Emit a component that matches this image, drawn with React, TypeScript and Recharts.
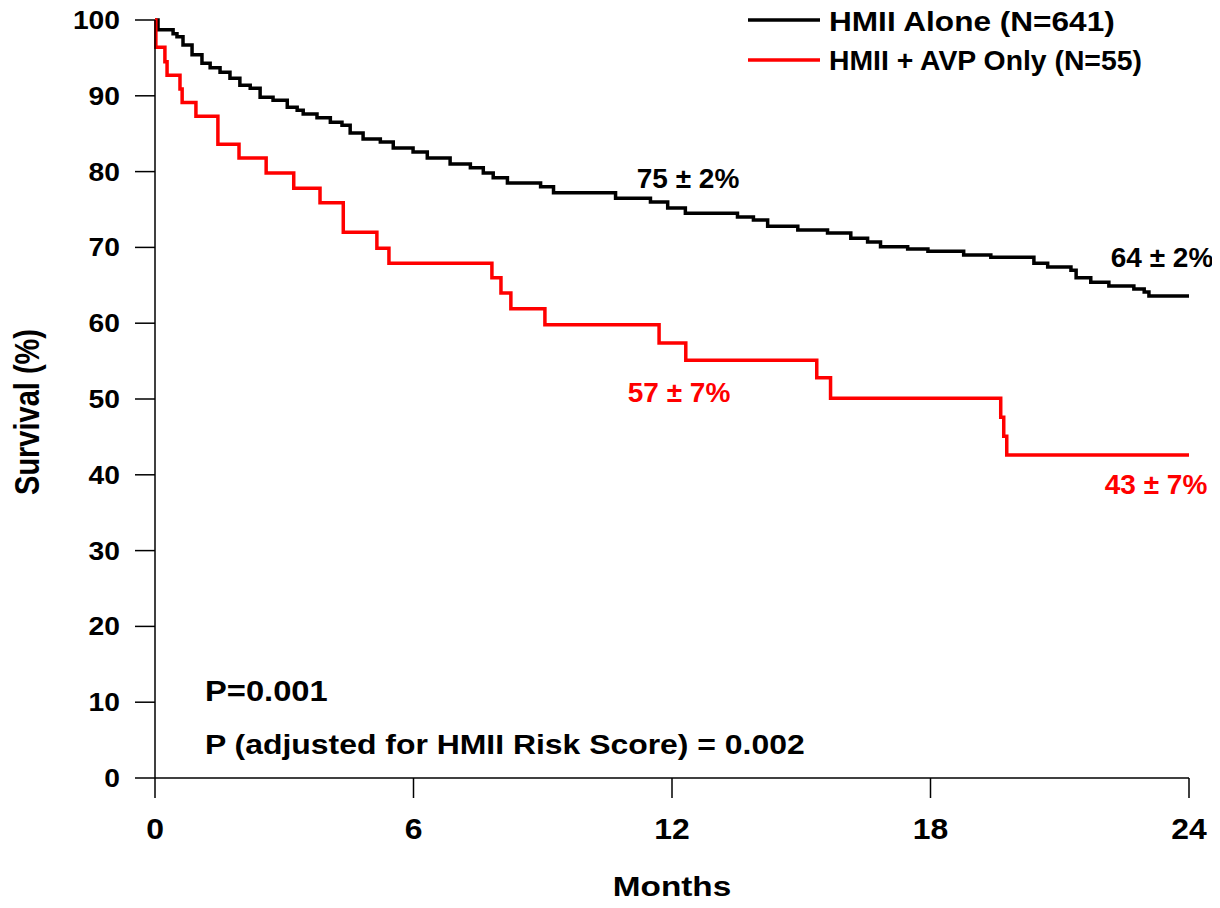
import React from 'react'
import { LineChart, Line, XAxis, YAxis } from 'recharts'

const FONT = '"Liberation Sans", Arial, Helvetica, sans-serif'

const monthTicks = [0, 6, 12, 18, 24]
const survivalTicks = [0, 10, 20, 30, 40, 50, 60, 70, 80, 90, 100]

// HMII Alone (N=641)
const aloneMonths = [
  0, 0.07, 0.42, 0.51, 0.65, 0.86, 1.09, 1.28, 1.51, 1.74, 1.97, 2.21, 2.44, 2.74, 3.07,
  3.3, 3.44, 3.76, 4.07, 4.34, 4.53, 4.83, 5.23, 5.53, 5.99, 6.32, 6.85, 7.32, 7.62, 7.85,
  8.18, 8.95, 9.25, 10.69, 11.5, 11.9, 12.31, 13.52, 13.89, 14.22, 14.92, 15.61, 16.15,
  16.54, 16.84, 17.47, 17.94, 18.77, 19.4, 20.4, 20.72, 21.26, 21.38, 21.72, 22.14, 22.72,
  22.96, 23.07, 24,
]
const aloneSurvival = [
  100, 98.7, 98.2, 97.8, 96.7, 95.4, 94.3, 93.7, 93.1, 92.3, 91.4, 91.0, 89.8, 89.4, 88.5,
  88.1, 87.6, 87.1, 86.5, 86.1, 85.1, 84.3, 83.9, 83.1, 82.6, 81.8, 81.0, 80.5, 79.8, 79.2,
  78.5, 78.0, 77.2, 76.5, 76.0, 75.2, 74.5, 74.0, 73.6, 72.8, 72.3, 71.9, 71.2,
  70.7, 70.1, 69.8, 69.5, 69.0, 68.7, 67.9, 67.4, 67.0, 66.0, 65.4, 64.9, 64.5,
  64.1, 63.6, 63.6,
]

// HMII + AVP Only (N=55)
const avpMonths = [
  0, 0.02, 0.23, 0.28, 0.58, 0.63, 0.95, 1.46, 1.95, 2.58, 3.22, 3.83, 4.37, 5.15, 5.43,
  7.82, 8.03, 8.26, 9.05, 11.7, 12.32, 15.36, 15.68, 19.63, 19.7, 19.77, 24,
]
const avpSurvival = [
  100, 96.4, 94.5, 92.7, 90.9, 89.1, 87.3, 83.6, 81.8, 79.8, 77.8, 75.9, 72.0, 69.9, 67.9,
  66.0, 64.0, 61.9, 59.8, 57.4, 55.1, 52.8, 50.1, 47.6, 45.1, 42.6, 42.6,
]

const aloneData = aloneMonths.map((m, i) => ({ m, s: aloneSurvival[i] }))
const avpData = avpMonths.map((m, i) => ({ m, s: avpSurvival[i] }))

const W = 1204
const H = 892

// bold text, stretched horizontally like the original figure
const Txt = ({ x, y, size, sx = 1, anchor = 'start', fill = '#000', children }: any) => (
  <text
    transform={`translate(${x},${y}) scale(${sx},1)`}
    textAnchor={anchor}
    fontFamily={FONT}
    fontWeight="bold"
    fontSize={size}
    fill={fill}
  >
    {children}
  </text>
)

const YTick = ({ x, y, payload }: any) => (
  <g transform={`translate(${x},${y}) scale(1.13,1)`}>
    <text x={0} y={0} dy={9} textAnchor="end" fontFamily={FONT} fontWeight="bold" fontSize={25} fill="#000">
      {payload.value}
    </text>
  </g>
)

const XTick = ({ x, y, payload }: any) => (
  <g transform={`translate(${x},${y}) scale(1.1,1)`}>
    <text x={0} y={0} dy={20} textAnchor="middle" fontFamily={FONT} fontWeight="bold" fontSize={29} fill="#000">
      {payload.value}
    </text>
  </g>
)

export default function App() {
  return (
    <div style={{ position: 'relative', width: W, height: H }}>
      <LineChart width={W} height={H} margin={{ top: 12, right: 23, left: 0, bottom: 62 }}>
        <XAxis
          type="number"
          dataKey="m"
          domain={[0, 24]}
          ticks={monthTicks}
          allowDuplicatedCategory={false}
          height={60}
          tickSize={20}
          tickMargin={21}
          axisLine={{ stroke: '#000', strokeWidth: 1.5 }}
          tickLine={{ stroke: '#000', strokeWidth: 1.5 }}
          tick={<XTick />}
        />
        <YAxis
          type="number"
          domain={[0, 100]}
          ticks={survivalTicks}
          width={147}
          tickSize={20}
          tickMargin={15}
          axisLine={{ stroke: '#000', strokeWidth: 1.5 }}
          tickLine={{ stroke: '#000', strokeWidth: 1.5 }}
          tick={<YTick />}
        />
        <Line
          data={aloneData}
          dataKey="s"
          type="stepAfter"
          stroke="#000"
          strokeWidth={3.5}
          dot={false}
          isAnimationActive={false}
        />
        <Line
          data={avpData}
          dataKey="s"
          type="stepAfter"
          stroke="#ff0000"
          strokeWidth={3.5}
          dot={false}
          isAnimationActive={false}
        />
      </LineChart>

      <svg
        width={W}
        height={H}
        style={{ position: 'absolute', left: 0, top: 0, pointerEvents: 'none', overflow: 'visible' }}
      >
        {/* legend */}
        <line x1={740} x2={812} y1={12} y2={12} stroke="#000" strokeWidth={3.5} />
        <Txt x={821} y={23} size={27} sx={1.17}>HMII Alone (N=641)</Txt>
        <line x1={740} x2={812} y1={52} y2={52} stroke="#ff0000" strokeWidth={3.5} />
        <Txt x={821} y={62} size={27} sx={1.05}>HMII + AVP Only (N=55)</Txt>

        {/* survival annotations */}
        <Txt x={680} y={180} size={28} anchor="middle">75 ± 2%</Txt>
        <Txt x={1154} y={259} size={28} anchor="middle">64 ± 2%</Txt>
        <Txt x={671} y={394} size={28} anchor="middle" fill="#ff0000">57 ± 7%</Txt>
        <Txt x={1148} y={486} size={28} anchor="middle" fill="#ff0000">43 ± 7%</Txt>

        <Txt x={197} y={693} size={30} sx={1.09}>P=0.001</Txt>
        <Txt x={197} y={746} size={28} sx={1.14}>P (adjusted for HMII Risk Score) = 0.002</Txt>

        {/* axis titles */}
        <text
          transform="translate(31,404) rotate(-90) scale(1,1.2)"
          textAnchor="middle"
          fontFamily={FONT}
          fontWeight="bold"
          fontSize={29}
          fill="#000"
        >
          Survival (%)
        </text>
        <Txt x={664} y={888} size={28} sx={1.19} anchor="middle">Months</Txt>
      </svg>
    </div>
  )
}
